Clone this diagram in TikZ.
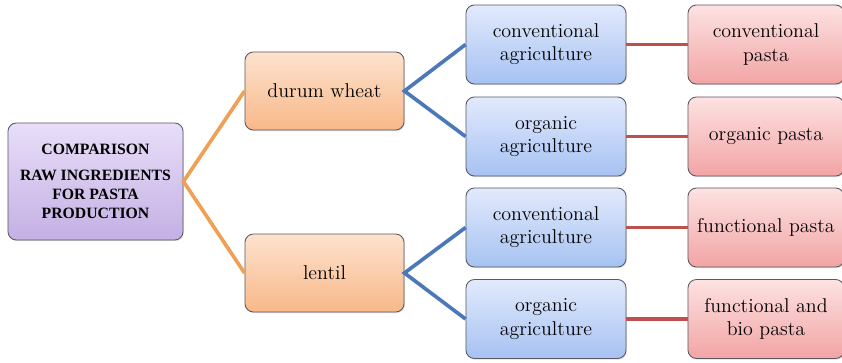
\documentclass[tikz,border=0pt]{standalone}
\usepackage{fontspec}
\usepackage{tikz}
\usetikzlibrary{positioning,shapes,shadows,arrows,fit}

\newfontfamily\headfont{Liberation Serif}

\definecolor{rootborder}{RGB}{90,90,100}
\definecolor{linkorange}{RGB}{240,160,85}
\definecolor{linkblue}{RGB}{75,120,185}
\definecolor{linkred}{RGB}{190,80,78}

\tikzset{
  box/.style={draw=rootborder, line width=0.6, rounded corners=6pt, align=center,
    inner sep=2pt, font=\fontsize{14.2}{16.5}\selectfont,
    drop shadow={shadow xshift=0.6pt, shadow yshift=-0.8pt, opacity=0.25}},
  rootbox/.style={box, minimum width=4.375cm, minimum height=2.925cm,
    top color={rgb,255:red,232;green,222;blue,248}, bottom color={rgb,255:red,196;green,176;blue,228},
    font=\headfont\fontsize{11.2}{13.4}\selectfont\bfseries},
  grainbox/.style={box, minimum width=3.975cm, minimum height=1.95cm,
    top color={rgb,255:red,253;green,226;blue,206}, bottom color={rgb,255:red,248;green,184;blue,136}},
  farmbox/.style={box, minimum width=4cm, minimum height=1.975cm,
    top color={rgb,255:red,226;green,234;blue,252}, bottom color={rgb,255:red,166;green,194;blue,242}},
  pastabox/.style={box, minimum width=3.9cm, minimum height=1.975cm,
    top color={rgb,255:red,253;green,226;blue,226}, bottom color={rgb,255:red,242;green,164;blue,164}},
  link/.style={line width=2.6}
}

\begin{document}
\begin{tikzpicture}[x=0.025cm, y=-0.025cm]
\useasboundingbox (0,0) rectangle (842,362);

\node[rootbox] (comp) at (95.5,181.5) {COMPARISON\\[5pt]RAW INGREDIENTS\\FOR PASTA\\PRODUCTION};

\node[grainbox] (wheat) at (324.5,91) {durum wheat};
\node[grainbox] (lentil) at (324.5,273) {lentil};

\node[farmbox] (wconv) at (546,44.5) {conventional\\agriculture};
\node[farmbox] (worg) at (546,136.5) {organic\\agriculture};
\node[farmbox] (lconv) at (546,227.5) {conventional\\agriculture};
\node[farmbox] (lorg) at (546,319) {organic\\agriculture};

\node[pastabox] (pconv) at (766,44.5) {conventional\\pasta};
\node[pastabox] (porg) at (766,136.5) {organic pasta};
\node[pastabox] (pfun) at (766,227.5) {functional pasta};
\node[pastabox] (pbio) at (766,319) {functional and\\bio pasta};

% raw material branches
\draw[link, color=linkorange] (wheat.west) -- (comp.east) -- (lentil.west);

% farming branches
\draw[link, color=linkblue] (wconv.west) -- (wheat.east) -- (worg.west);
\draw[link, color=linkblue] (lconv.west) -- (lentil.east) -- (lorg.west);

% products
\draw[link, color=linkred] (wconv) -- (pconv);
\draw[link, color=linkred] (worg) -- (porg);
\draw[link, color=linkred] (lconv) -- (pfun);
\draw[link, color=linkred] (lorg) -- (pbio);
\end{tikzpicture}
\end{document}
